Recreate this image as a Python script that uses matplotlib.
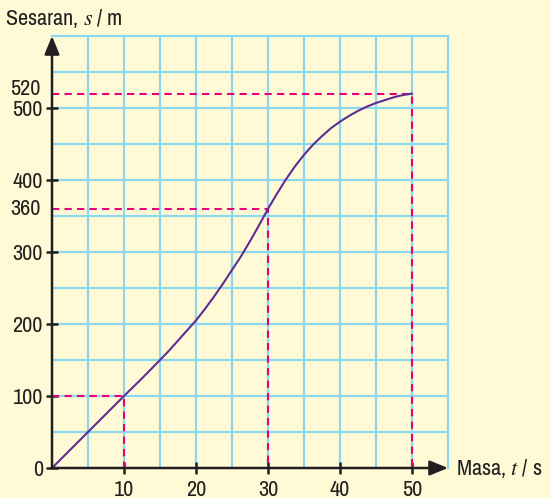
import matplotlib.pyplot as plt
import numpy as np

# ------------------------------  Data  ---------------------------------------

# time t (s) and displacement s (m)
masa = [0, 2.5, 5, 7.5, 10, 12.5, 15, 16.25, 17.5, 18.75, 20, 21.25, 22.5,
        23.75, 25, 26.25, 27.5, 28.75, 30, 31.25, 32.5, 33.75, 35, 36.25,
        37.5, 38.75, 40, 41.25, 42.5, 43.75, 45, 46.25, 47.5, 48.75, 50]
sesaran = [0, 25, 50, 75, 100, 124.5, 150, 163, 177, 191, 205, 221, 238,
           256, 275, 294, 315, 337, 360, 381, 401, 419, 435, 449,
           461, 472, 481, 489, 496, 502, 507, 511, 515, 518, 520]

# points marked with dashed guide lines
guide_t = [10, 30, 50]
guide_s = [100, 360, 520]

x_ticks = [10, 20, 30, 40, 50]
y_ticks = [0, 100, 200, 300, 400, 500]
y_extra = [360, 520]

# ------------------------------  Style  --------------------------------------

BG = "#FFFAD6"
GRID = "#8DD7EF"
PINK = "#E6007E"
PURPLE = "#5E2C92"
INK = "#231F20"

plt.rcParams["font.family"] = ["Archivo Narrow", "Liberation Sans Narrow",
                               "DejaVu Sans"]
plt.rcParams["mathtext.fontset"] = "stix"
FS = 16

fig = plt.figure(figsize=(5.5, 4.98), dpi=100, facecolor=BG)
ax = fig.add_axes([52 / 550, 30 / 498, 396 / 550, 432 / 498])
ax.set_facecolor(BG)
ax.set_xlim(0, 55)
ax.set_ylim(0, 600)

# grid, including the outer border lines
for gx in np.arange(5, 56, 5):
    ax.axvline(gx, color=GRID, lw=1.6, zorder=1, clip_on=False)
for gy in np.arange(50, 601, 50):
    ax.axhline(gy, color=GRID, lw=1.6, zorder=1, clip_on=False)

# dashed guide lines
for t, s in zip(guide_t, guide_s):
    ax.plot([0, t, t], [s, s, 0], color=PINK, lw=1.5, ls=(0, (3.5, 2.5)),
            zorder=2, clip_on=False)

ax.plot(masa, sesaran, color=PURPLE, lw=1.5, zorder=3)

# axes with arrow heads
for side in ["top", "right", "left", "bottom"]:
    ax.spines[side].set_visible(False)
arrow = dict(arrowstyle="-|>,head_length=1.1,head_width=0.45",
             color=INK, lw=1.8, shrinkA=0, shrinkB=0)
ax.annotate("", xy=(55, 0), xytext=(0, 0), arrowprops=arrow,
            annotation_clip=False, zorder=4)
ax.annotate("", xy=(0, 600), xytext=(0, 0), arrowprops=arrow,
            annotation_clip=False, zorder=4)

ax.set_xticks(x_ticks)
ax.set_yticks(y_ticks)
ax.tick_params(direction="inout", length=9, width=1.8, color=INK,
               labelsize=FS, labelcolor=INK)
ax.tick_params(axis="x", pad=4)
ax.tick_params(axis="y", pad=2)
for s in y_extra:
    ax.annotate(str(s), (0, s), xytext=(-8, 3 if s == 520 else 0),
                textcoords="offset points", ha="right", va="center",
                fontsize=FS, color=INK, annotation_clip=False)

fig.text(5 / 550, 1 - 19 / 498, r"Sesaran, $s$ / m", fontsize=FS,
         color=INK, va="center")
fig.text(456 / 550, 1 - 468 / 498, r"Masa, $t$ / s", fontsize=FS,
         color=INK, va="center")

fig.savefig("out.png", dpi=100, facecolor=BG)
